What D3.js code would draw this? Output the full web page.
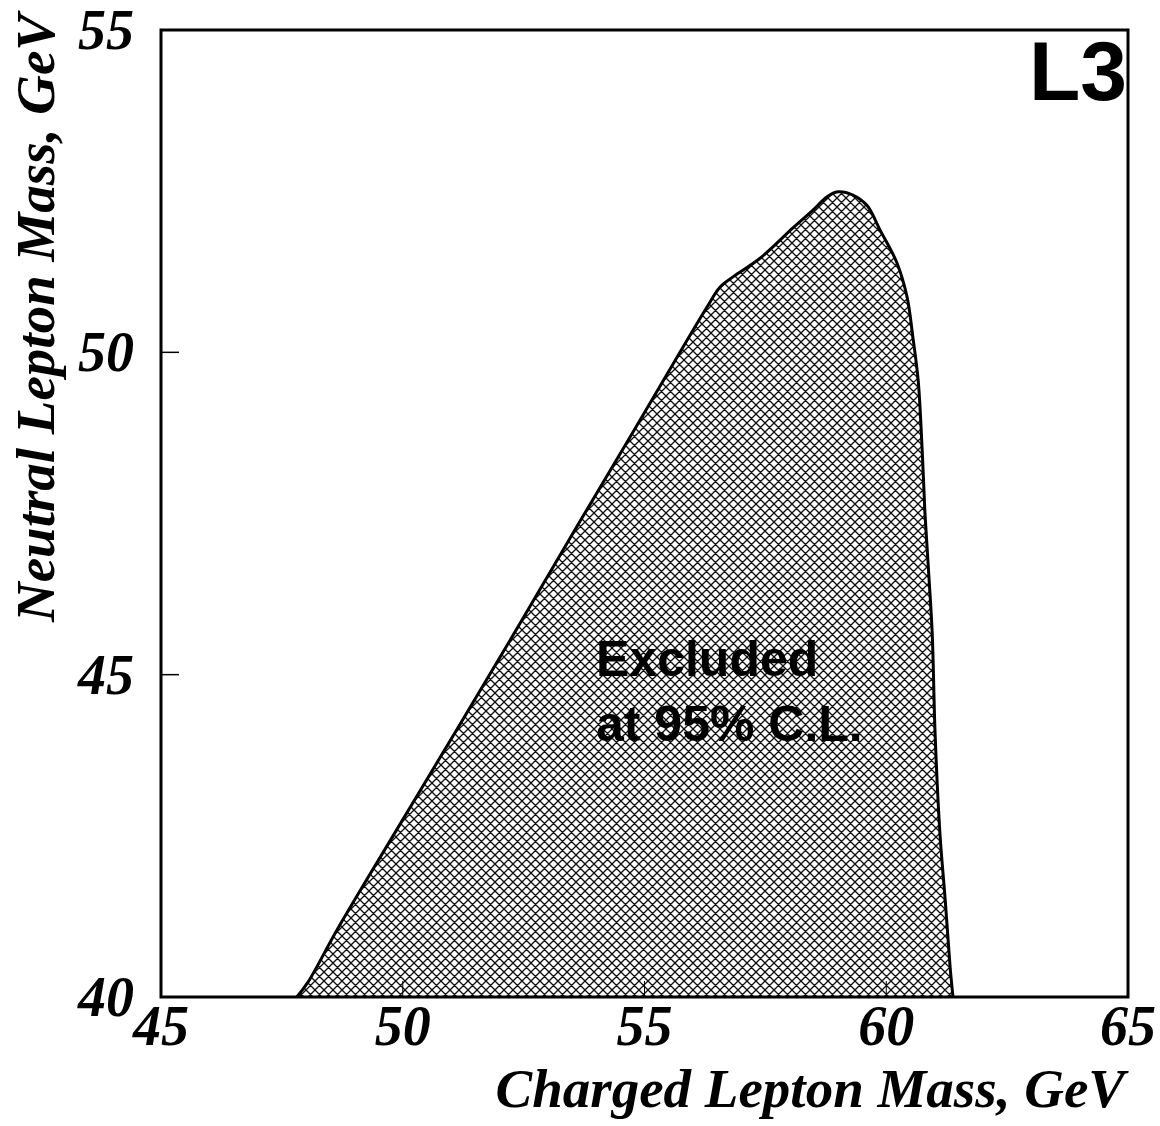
<!DOCTYPE html>
<html>
<head>
<meta charset="utf-8">
<script src="https://cdn.jsdelivr.net/npm/d3@7"></script>
<style>
  body { margin: 0; background: #fff; }
  .tick-label { font-family: "Liberation Serif", serif; font-weight: bold; font-style: italic; font-size: 56px; }
  .axis-title { font-family: "Liberation Serif", serif; font-weight: bold; font-style: italic; font-size: 55px; }
  .note { font-family: "Liberation Sans", Arial, sans-serif; font-weight: bold; font-size: 50px; }
</style>
</head>
<body>
<svg id="chart" width="1160" height="1126"></svg>
<script>
// excluded region boundary (charged mass, neutral mass), GeV
const chargedMass = [47.81, 48.04, 48.64, 49.88, 51.12, 52.43, 53.62, 54.84, 55.67, 56.29, 56.56, 56.83, 57.39, 58.07, 58.49, 58.77, 59.00, 59.31, 59.60, 59.87, 60.22, 60.43, 60.55, 60.66, 60.74, 60.80, 60.88, 60.95, 61.01, 61.11, 61.22, 61.32, 61.38]
const neutralMass = [40.00, 40.23, 41.04, 42.60, 44.15, 45.80, 47.32, 48.86, 49.92, 50.70, 51.01, 51.17, 51.46, 51.93, 52.21, 52.41, 52.49, 52.44, 52.28, 51.90, 51.39, 50.86, 50.24, 49.57, 48.53, 47.51, 46.55, 45.65, 44.09, 42.54, 41.50, 40.47, 40.00]

const xTicks = [45, 50, 55, 60, 65]
const yTicks = [40, 45, 50, 55]
const xInnerTicks = [50, 55, 60]
const yInnerTicks = [45, 50]

const svg = d3.select("#chart")
const mLeft = 161, mRight = 1128, mTop = 30, mBottom = 997

const x = d3.scaleLinear().domain([45, 65]).range([mLeft, mRight])
const y = d3.scaleLinear().domain([40, 55]).range([mBottom, mTop])

// cross hatch
const pat = svg.append("defs").append("pattern")
    .attr("id", "hatch")
    .attr("patternUnits", "userSpaceOnUse")
    .attr("width", 9).attr("height", 9)
pat.append("path")
    .attr("d", "M0,0 L9,9 M0,9 L9,0 M-1,1 L1,-1 M8,10 L10,8 M-1,8 L1,10 M8,-1 L10,1")
    .attr("stroke", "#111")
    .attr("stroke-width", 1.35)

const pts = chargedMass.map((c, i) => [c, neutralMass[i]])

const line = d3.line()
    .x(d => x(d[0]))
    .y(d => y(d[1]))
    .curve(d3.curveCatmullRom)

svg.append("path")
    .attr("d", line(pts) + "Z")
    .attr("fill", "url(#hatch)")
    .attr("stroke", "none")

svg.append("path")
    .attr("d", line(pts))
    .attr("fill", "none")
    .attr("stroke", "#000")
    .attr("stroke-width", 3)

// inner ticks
svg.selectAll(".xt")
    .data(xInnerTicks)
    .join("line")
    .attr("x1", d => x(d)).attr("x2", d => x(d))
    .attr("y1", mBottom).attr("y2", mBottom - 16)
    .attr("stroke", "#000").attr("stroke-width", 1)

svg.selectAll(".yt")
    .data(yInnerTicks)
    .join("line")
    .attr("x1", mLeft).attr("x2", mLeft + 18)
    .attr("y1", d => y(d)).attr("y2", d => y(d))
    .attr("stroke", "#000").attr("stroke-width", 1.5)

// frame
svg.append("rect")
    .attr("x", mLeft).attr("y", mTop)
    .attr("width", mRight - mLeft).attr("height", mBottom - mTop)
    .attr("fill", "none")
    .attr("stroke", "#000")
    .attr("stroke-width", 3)

// tick labels
svg.selectAll(".xl")
    .data(xTicks)
    .join("text")
    .attr("class", "tick-label")
    .attr("x", d => x(d))
    .attr("y", 1045)
    .attr("text-anchor", "middle")
    .text(d => d)

svg.selectAll(".yl")
    .data(yTicks)
    .join("text")
    .attr("class", "tick-label")
    .attr("x", 134)
    .attr("y", d => y(d) + 19)
    .attr("text-anchor", "end")
    .text(d => d)

// axis titles
svg.append("text")
    .attr("class", "axis-title")
    .attr("x", 1125)
    .attr("y", 1107)
    .attr("text-anchor", "end")
    .text("Charged Lepton Mass, GeV")

svg.append("text")
    .attr("class", "axis-title")
    .attr("transform", "translate(54,14) rotate(-90)")
    .attr("text-anchor", "end")
    .text("Neutral Lepton Mass, GeV")

// labels
svg.append("text")
    .attr("class", "note")
    .attr("x", 1127).attr("y", 100)
    .attr("text-anchor", "end")
    .style("font-size", "84px")
    .text("L3")

svg.append("text")
    .attr("class", "note")
    .attr("x", 596).attr("y", 676)
    .text("Excluded")

svg.append("text")
    .attr("class", "note")
    .attr("x", 596).attr("y", 741)
    .text("at 95% C.L.")
</script>
</body>
</html>
